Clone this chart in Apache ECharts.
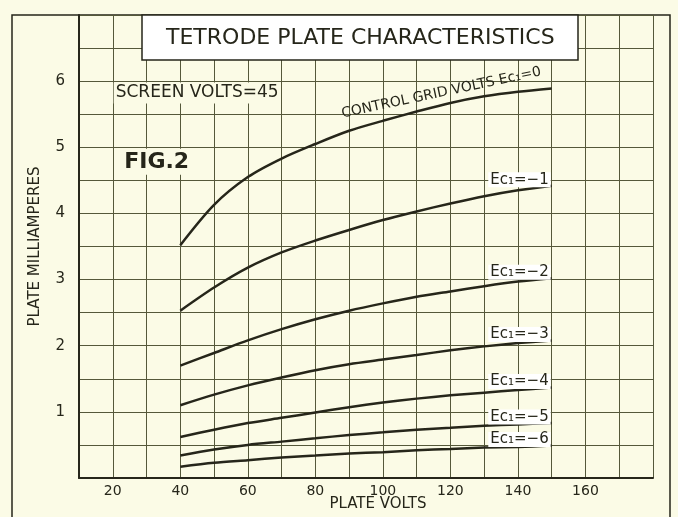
<!DOCTYPE html>
<html>
<head>
<meta charset="utf-8">
<script src="https://cdn.jsdelivr.net/npm/echarts@6/dist/echarts.min.js"></script>
<style>
  html, body { margin: 0; padding: 0; background: #fbfbe6; }
  #chart { width: 678px; height: 517px; }
</style>
</head>
<body>
<div id="chart"></div>
<script>
// plate volts sampled along each curve
const plateVolts = [40, 50, 60, 70, 80, 90, 100, 110, 120, 130, 140, 150];

// plate milliamperes for each control grid voltage
const ec0 = [3.52, 4.13, 4.55, 4.83, 5.05, 5.25, 5.40, 5.54, 5.67, 5.77, 5.84, 5.89];
const ecMinus1 = [2.53, 2.88, 3.18, 3.41, 3.59, 3.75, 3.90, 4.03, 4.15, 4.26, 4.35, 4.42];
const ecMinus2 = [1.70, 1.89, 2.08, 2.25, 2.40, 2.53, 2.64, 2.74, 2.82, 2.90, 2.97, 3.02];
const ecMinus3 = [1.10, 1.26, 1.40, 1.52, 1.63, 1.72, 1.79, 1.86, 1.93, 1.99, 2.04, 2.08];
const ecMinus4 = [0.62, 0.73, 0.83, 0.91, 0.99, 1.07, 1.14, 1.20, 1.25, 1.29, 1.33, 1.37];
const ecMinus5 = [0.34, 0.43, 0.50, 0.55, 0.60, 0.65, 0.69, 0.73, 0.76, 0.79, 0.81, 0.83];
const ecMinus6 = [0.17, 0.23, 0.27, 0.31, 0.34, 0.37, 0.39, 0.42, 0.44, 0.46, 0.47, 0.49];

const curveLabels = ['CONTROL GRID VOLTS Ec₁=0', 'Ec₁=−1', 'Ec₁=−2', 'Ec₁=−3', 'Ec₁=−4', 'Ec₁=−5', 'Ec₁=−6'];
const xTickLabels = [20, 40, 60, 80, 100, 120, 140, 160];
const yTickLabels = [1, 2, 3, 4, 5, 6];

const ink = '#26261a';
const gridInk = '#55583a';
const paper = '#fbfbe6';
const font = 'DejaVu Sans';

const curves = [ec0, ecMinus1, ecMinus2, ecMinus3, ecMinus4, ecMinus5, ecMinus6];

const series = curves.map((vals, i) => {
  const last = vals[vals.length - 1];
  let mp;
  if (i === 0) {
    mp = {
      symbolSize: 0,
      silent: true,
      data: [
        {
          coord: [118, 5.66],
          label: {
            show: true, formatter: curveLabels[0], position: 'inside',
            rotate: 12, offset: [0, -11], fontSize: 14, color: ink, fontFamily: font
          }
        },
        {
          coord: [45, 5.82],
          label: {
            show: true, formatter: 'SCREEN VOLTS=45', position: 'inside',
            fontSize: 17, color: ink, fontFamily: font,
            backgroundColor: paper, padding: [2, 2]
          }
        },
        {
          coord: [33, 4.78],
          label: {
            show: true, formatter: 'FIG.2', position: 'inside',
            fontSize: 22, fontWeight: 'bold', color: ink, fontFamily: font,
            backgroundColor: paper, padding: [2, 3]
          }
        }
      ]
    };
  } else {
    mp = {
      symbolSize: 0,
      silent: true,
      data: [{
        coord: [150, last],
        label: {
          show: true, formatter: curveLabels[i], position: 'left',
          offset: [4, -6], fontSize: 15, color: ink, fontFamily: font,
          backgroundColor: '#ffffff', padding: [0, 2]
        }
      }]
    };
  }
  return {
    type: 'line',
    smooth: 0.3,
    showSymbol: false,
    silent: true,
    data: plateVolts.map((v, k) => [v, vals[k]]),
    lineStyle: { color: ink, width: 2.5 },
    markPoint: mp,
    z: 3
  };
});

const chart = echarts.init(document.getElementById('chart'));
chart.setOption({
  backgroundColor: paper,
  animation: false,
  title: {
    text: 'TETRODE PLATE CHARACTERISTICS',
    left: 142,
    top: 15,
    padding: [10, 24, 9, 24],
    backgroundColor: '#ffffff',
    borderColor: ink,
    borderWidth: 1.5,
    textStyle: { fontFamily: font, fontSize: 22, fontWeight: 'normal', color: ink, lineHeight: 26 }
  },
  graphic: [{
    type: 'rect',
    shape: { x: 12, y: 15, width: 658, height: 520 },
    style: { fill: 'none', stroke: ink, lineWidth: 1.5 },
    z: -1,
    silent: true
  }],
  grid: { left: 79, right: 25, top: 15, bottom: 39, outerBoundsMode: 'none', containLabel: false },
  xAxis: {
    type: 'value',
    min: 10,
    max: 180,
    interval: 10,
    name: 'PLATE VOLTS',
    nameLocation: 'middle',
    nameGap: 19,
    nameMoveOverlap: false,
    nameTextStyle: { fontFamily: font, fontSize: 15, color: ink, padding: [0, 0, 0, 24] },
    axisLine: { lineStyle: { color: ink, width: 2 } },
    axisTick: { show: false },
    axisLabel: {
      margin: 6,
      fontFamily: font, fontSize: 14, color: ink,
      formatter: v => xTickLabels.includes(v) ? String(v) : ''
    },
    splitLine: { show: true, lineStyle: { color: gridInk, width: 1 } }
  },
  yAxis: {
    type: 'value',
    min: 0,
    max: 7,
    interval: 0.5,
    name: 'PLATE MILLIAMPERES',
    nameLocation: 'middle',
    nameGap: 36,
    nameMoveOverlap: false,
    nameTextStyle: { fontFamily: font, fontSize: 15, color: ink },
    axisLine: { show: true, lineStyle: { color: ink, width: 2 } },
    axisTick: { show: false },
    axisLabel: {
      margin: 14,
      fontFamily: font, fontSize: 15, color: ink,
      formatter: v => yTickLabels.includes(v) ? String(v) : ''
    },
    splitLine: { show: true, lineStyle: { color: gridInk, width: 1 } }
  },
  series: series
});
</script>
</body>
</html>
